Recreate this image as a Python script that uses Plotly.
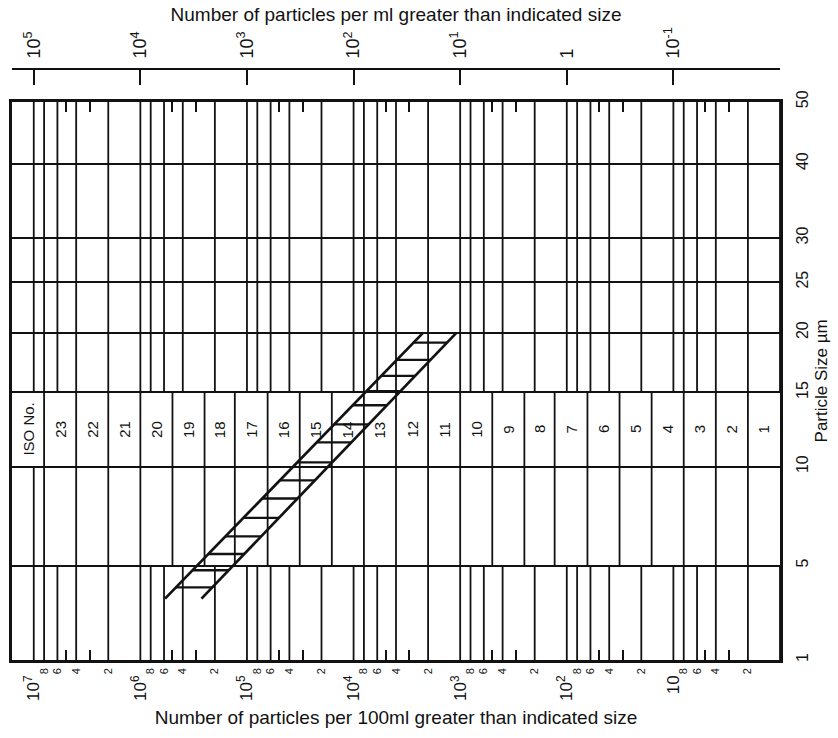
import numpy as np
import plotly.graph_objects as go

# ---- chart values -------------------------------------------------------
# ISO 4406 column boundaries, particles per 100 ml (high -> low)
iso_bounds = [1.6e7, 8e6, 4e6, 2e6, 1e6, 5e5, 2.5e5, 1.3e5, 6.4e4, 3.2e4, 1.6e4,
              8e3, 4e3, 2e3, 1e3, 500, 250, 130, 64, 32, 16, 8, 4, 2, 1]
iso_labels = ["ISO No.", "23", "22", "21", "20", "19", "18", "17", "16", "15", "14",
              "13", "12", "11", "10", "9", "8", "7", "6", "5", "4", "3", "2", "1"]

# particle size axis (µm)
size_ticks = [1, 5, 10, 15, 20, 25, 30, 40, 50]
size_labels = ["1", "5", "10", "15", "20", "25", "30", "40", "50"]
size_range = [1, 50]
iso_band_sizes = [10, 15]          # row that holds the ISO code numbers

# count axis, particles per 100 ml
count_range = [1.6e7, 1]
decades_100ml = [1e7, 1e6, 1e5, 1e4, 1e3, 1e2, 1e1]
decade_labels_100ml = ["10<sup>7</sup>", "10<sup>6</sup>", "10<sup>5</sup>", "10<sup>4</sup>",
                       "10<sup>3</sup>", "10<sup>2</sup>", "10"]
grid_mantissas = [1, 2, 4, 6, 8]
label_mantissas = [8, 6, 4, 2]
short_tick_mantissas = [3, 5]

# count axis, particles per ml
decades_ml = [1e5, 1e4, 1e3, 1e2, 1e1, 1, 0.1]
decade_labels_ml = ["10<sup>5</sup>", "10<sup>4</sup>", "10<sup>3</sup>", "10<sup>2</sup>",
                    "10<sup>1</sup>", "1", "10<sup>-1</sup>"]

# hatched contamination band: two edges and the rungs between them
band_sizes = [3.66, 20]
band_high = [5.87e5, 2.22e3]
band_low = [2.67e5, 1.08e3]
rung_sizes = [19.1, 17.6, 16.3, 15.1, 14.05, 12.7, 11.5, 10.25, 9.2, 8.2, 7.2, 6.3, 5.5, 4.8, 4.1]
rung_high = [2730, 3930, 5480, 7560, 10200, 15200, 22200, 33800,
             49100, 71900, 108000, 159500, 230400, 324200, 464500]
rung_low = [1330, 1900, 2640, 3630, 4860, 7230, 10500, 15900,
            23100, 33600, 50200, 73800, 106100, 148600, 212000]

INK = "#121212"
FONT = "Liberation Sans, Arial, Helvetica, sans-serif"


def size_pos(d):
    """Particle-size scale: squared log of the size."""
    return np.log10(np.asarray(d, dtype=float)) ** 2


def in_range(v):
    return count_range[1] <= v <= count_range[0]


grid_counts = [m * 10.0 ** e for e in range(0, 8) for m in grid_mantissas if in_range(m * 10.0 ** e)]
label_counts = [m * 10.0 ** e for e in range(0, 8) for m in label_mantissas if in_range(m * 10.0 ** e)]
short_counts = [m * 10.0 ** e for e in range(0, 8) for m in short_tick_mantissas if in_range(m * 10.0 ** e)]


def vlines(xs, s0, s1):
    x, y = [], []
    y0, y1 = float(size_pos(s0)), float(size_pos(s1))
    for v in xs:
        x += [v, v, None]
        y += [y0, y1, None]
    return x, y


fig = go.Figure()
line_style = dict(color=INK, width=1.8)

# regular count grid above and below the ISO rows
for s0, s1 in [(iso_band_sizes[1], size_range[1]), (size_range[0], 5)]:
    x, y = vlines(grid_counts, s0, s1)
    fig.add_trace(go.Scatter(x=x, y=y, mode="lines", line=line_style, hoverinfo="skip"))

# ISO column dividers through the code row and the row beneath it
x, y = vlines(iso_bounds[1:-1], iso_band_sizes[0], iso_band_sizes[1])
fig.add_trace(go.Scatter(x=x, y=y, mode="lines", line=line_style, hoverinfo="skip"))
x, y = vlines(iso_bounds[1:-1] + [1e7], 5, iso_band_sizes[0])
fig.add_trace(go.Scatter(x=x, y=y, mode="lines", line=line_style, hoverinfo="skip"))

# band edges
for edge in (band_high, band_low):
    fig.add_trace(go.Scatter(x=edge, y=size_pos(band_sizes), mode="lines",
                             line=dict(color=INK, width=2.7), hoverinfo="skip"))
# rungs
rx, ry = [], []
for s, hi, lo in zip(rung_sizes, rung_high, rung_low):
    yy = float(size_pos(s))
    rx += [hi, lo, None]
    ry += [yy, yy, None]
fig.add_trace(go.Scatter(x=rx, y=ry, mode="lines", line=dict(color=INK, width=2.3), hoverinfo="skip"))

# empty traces so the extra count axes get drawn
fig.add_trace(go.Scatter(x=[], y=[], xaxis="x2", yaxis="y"))
fig.add_trace(go.Scatter(x=[], y=[], xaxis="x3", yaxis="y"))

# ISO code numbers
band_mid = float((size_pos(iso_band_sizes[0]) + size_pos(iso_band_sizes[1])) / 2)
for lab, hi, lo in zip(iso_labels, iso_bounds[:-1], iso_bounds[1:]):
    fig.add_annotation(x=(np.log10(hi) + np.log10(lo)) / 2, y=band_mid, xref="x", yref="y",
                       text=lab, textangle=-90, showarrow=False,
                       font=dict(family=FONT, size=15, color=INK))

y_top = (660 - 101.7) / (738 - 69 - 78)

fig.update_layout(
    width=838, height=738,
    margin=dict(l=9, r=56, t=69, b=78),
    paper_bgcolor="white", plot_bgcolor="white",
    showlegend=False,
    font=dict(family=FONT, size=15, color=INK),
    xaxis=dict(
        type="log", range=[np.log10(count_range[0]), np.log10(count_range[1])],
        tickvals=label_counts, ticktext=[f"{int(round(v / 10 ** np.floor(np.log10(v))))}" for v in label_counts],
        tickangle=-90, tickfont=dict(size=11), ticks="", ticklabelstandoff=1,
        showgrid=False, zeroline=False,
        showline=True, linewidth=2.7, linecolor=INK, mirror="ticks",
        minor=dict(tickvals=short_counts, ticks="inside", ticklen=10, tickwidth=1.8,
                   tickcolor=INK, showgrid=False),
    ),
    xaxis3=dict(
        type="log", overlaying="x", anchor="y", side="bottom",
        range=[np.log10(count_range[0]), np.log10(count_range[1])],
        tickvals=decades_100ml, ticktext=decade_labels_100ml, tickangle=-90,
        tickfont=dict(size=17), ticks="", ticklabelstandoff=11,
        showgrid=False, showline=False, zeroline=False,
        title=dict(text="Number of particles per 100ml greater than indicated size",
                   font=dict(size=19), standoff=10),
    ),
    xaxis2=dict(
        type="log", overlaying="x", anchor="free", position=1, side="top",
        range=[np.log10(count_range[0] / 100), np.log10(count_range[1] / 100)],
        tickvals=decades_ml + [count_range[0] / 100 * 0.999, count_range[1] / 100 * 1.001],
        ticktext=decade_labels_ml + ["", ""], tickangle=-90,
        tickfont=dict(size=18), ticks="inside", ticklen=15, tickwidth=1.8, tickcolor=INK,
        ticklabelstandoff=6,
        showgrid=False, showline=True, linewidth=1.8, linecolor=INK, zeroline=False,
        title=dict(text="Number of particles per ml greater than indicated size",
                   font=dict(size=19), standoff=0),
    ),
    yaxis=dict(
        domain=[0, y_top], range=[0, float(size_pos(size_range[1]))],
        side="right", tickvals=size_pos(size_ticks), ticktext=size_labels, tickangle=-90,
        tickfont=dict(size=16), ticks="", ticklabelstandoff=6,
        showgrid=True, gridcolor=INK, gridwidth=1.8, zeroline=False,
        showline=True, linewidth=2.7, linecolor=INK, mirror=True,
        title=dict(text="Particle Size µm", font=dict(size=17), standoff=6),
    ),
)

fig.write_html("out.html")
